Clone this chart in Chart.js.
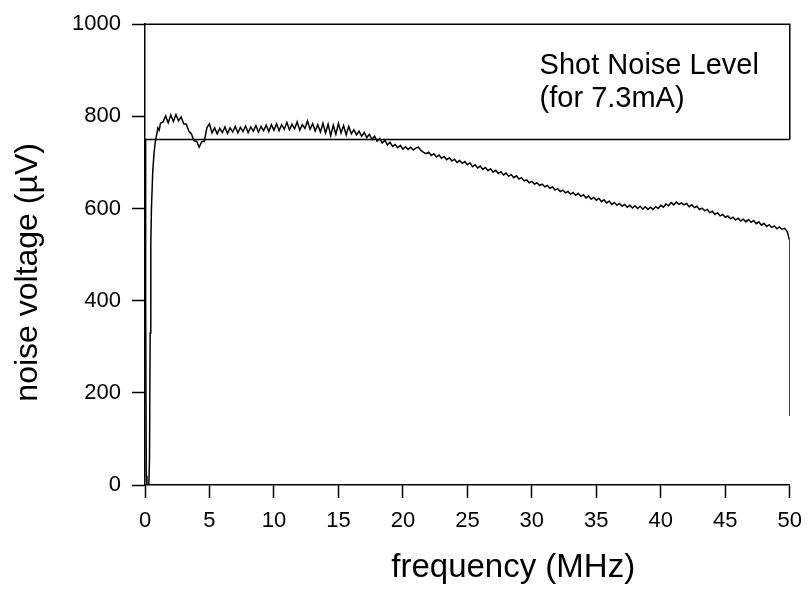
<!DOCTYPE html>
<html>
<head>
<meta charset="utf-8">
<script src="https://cdn.jsdelivr.net/npm/chart.js@4.4.1/dist/chart.umd.min.js"></script>
<style>
  html, body { margin: 0; padding: 0; background: #fff; }
  #c { display: block; }
</style>
</head>
<body>
<canvas id="c" width="812" height="592"></canvas>
<script>
// ---- data ----
const freqMHz = [
  0, 0.05, 0.1, 0.15, 0.2, 0.3, 0.35, 0.4, 0.45, 0.5, 0.6, 0.7, 0.8, 0.9, 1.0, 1.1, 1.2,
  1.4, 1.6, 1.8,
  2.0, 2.2, 2.4, 2.6, 2.8, 3.0, 3.2, 3.4, 3.6, 3.8,
  4.0, 4.2, 4.4, 4.6, 4.8, 5.0, 5.2, 5.4, 5.6, 5.8,
  6.0, 6.2, 6.4, 6.6, 6.8, 7.0, 7.2, 7.4, 7.6, 7.8,
  8.0, 8.2, 8.4, 8.6, 8.8, 9.0, 9.2, 9.4, 9.6, 9.8,
  10.0, 10.2, 10.4, 10.6, 10.8, 11.0, 11.2, 11.4, 11.6, 11.8,
  12.0, 12.2, 12.4, 12.6, 12.8, 13.0, 13.2, 13.4, 13.6, 13.8,
  14.0, 14.2, 14.4, 14.6, 14.8, 15.0, 15.2, 15.4, 15.6, 15.8,
  16.0, 16.2, 16.4, 16.6, 16.8, 17.0, 17.2, 17.4, 17.6, 17.8,
  18.0, 18.2, 18.4, 18.6, 18.8, 19.0, 19.2, 19.4, 19.6, 19.8,
  20.0, 20.2, 20.4, 20.6, 20.8, 21.0, 21.2, 21.4, 21.6, 21.8,
  22.0, 22.2, 22.4, 22.6, 22.8, 23.0, 23.2, 23.4, 23.6, 23.8,
  24.0, 24.2, 24.4, 24.6, 24.8, 25.0, 25.2, 25.4, 25.6, 25.8,
  26.0, 26.2, 26.4, 26.6, 26.8, 27.0, 27.2, 27.4, 27.6, 27.8,
  28.0, 28.2, 28.4, 28.6, 28.8, 29.0, 29.2, 29.4, 29.6, 29.8,
  30.0, 30.2, 30.4, 30.6, 30.8, 31.0, 31.2, 31.4, 31.6, 31.8,
  32.0, 32.2, 32.4, 32.6, 32.8, 33.0, 33.2, 33.4, 33.6, 33.8,
  34.0, 34.2, 34.4, 34.6, 34.8, 35.0, 35.2, 35.4, 35.6, 35.8,
  36.0, 36.2, 36.4, 36.6, 36.8, 37.0, 37.2, 37.4, 37.6, 37.8,
  38.0, 38.2, 38.4, 38.6, 38.8, 39.0, 39.2, 39.4, 39.6, 39.8,
  40.0, 40.2, 40.4, 40.6, 40.8, 41.0, 41.2, 41.4, 41.6, 41.8,
  42.0, 42.2, 42.4, 42.6, 42.8, 43.0, 43.2, 43.4, 43.6, 43.8,
  44.0, 44.2, 44.4, 44.6, 44.8, 45.0, 45.2, 45.4, 45.6, 45.8,
  46.0, 46.2, 46.4, 46.6, 46.8, 47.0, 47.2, 47.4, 47.6, 47.8,
  48.0, 48.2, 48.4, 48.6, 48.8, 49.0, 49.2, 49.4, 49.6, 49.8,
  49.9, 50.0, 50.0
];
const noiseUV = [
  750, 400, 20, 0, 0, 0, 60, 330, 520, 600, 680, 720, 745, 760, 775, 770, 785,
  788, 801, 786,
  803, 789, 804, 790, 799, 784, 783, 768, 762, 747,
  746, 733, 745, 746, 775, 784, 764, 775, 762, 774,
  765, 777, 763, 775, 766, 778, 764, 776, 767, 779,
  765, 777, 768, 780, 766, 778, 769, 781, 767, 782,
  770, 784, 769, 782, 772, 787, 771, 783, 773, 788,
  770, 782, 774, 790, 772, 784, 768, 782, 766, 785,
  764, 783, 758, 781, 761, 785, 764, 780, 760, 778,
  762, 771, 760, 768, 757, 765, 754, 761, 750, 757,
  746, 752, 742, 748, 738, 744, 735, 739, 732, 737,
  729, 734, 728, 733, 727, 731, 733, 726, 722, 719,
  722, 715, 719, 712, 716, 709, 713, 706, 710, 703,
  707, 700, 704, 698, 702, 695, 699, 691, 695, 688,
  692, 685, 689, 682, 686, 679, 683, 676, 680, 673,
  677, 670, 674, 667, 671, 664, 667, 660, 662, 656,
  659, 653, 656, 650, 653, 647, 650, 644, 647, 640,
  643, 637, 640, 634, 637, 631, 635, 629, 633, 626,
  630, 623, 627, 620, 624, 618, 622, 615, 619, 612,
  616, 609, 613, 607, 611, 605, 609, 603, 607, 601,
  606, 600, 605, 599, 604, 598, 603, 598, 604, 600,
  607, 603, 610, 606, 613, 608, 614, 609, 612, 608,
  611, 604, 608, 602, 605, 598, 601, 595, 598, 591,
  594, 587, 591, 584, 587, 581, 584, 578, 581, 575,
  579, 573, 577, 571, 576, 570, 574, 567, 571, 564,
  568, 561, 565, 559, 562, 556, 560, 555, 557, 550,
  540, 530, 150
];
const shotNoiseLevel = 750;           // µV, horizontal reference line
const shotNoiseFreq = [0, 50];
const xTickValues = [0, 5, 10, 15, 20, 25, 30, 35, 40, 45, 50];
const yTickValues = [0, 200, 400, 600, 800, 1000];
const annotationLines = ['Shot Noise Level', '(for 7.3mA)'];
const annotationPos = { x: 30.6, y: [893, 820] };   // data coords of text baselines
const xTitle = 'frequency (MHz)';
const yTitle = 'noise voltage (\u00b5V)';

// ---- chart ----
const FAMILY = '"Liberation Sans", Arial, Helvetica, sans-serif';
const NBSP = '\u00a0';

const curve = freqMHz.map((f, i) => ({ x: f, y: noiseUV[i] }));
const shotLine = shotNoiseFreq.map(f => ({ x: f, y: shotNoiseLevel }));

const framePlugin = {
  id: 'frameAndNote',
  afterDatasetsDraw(chart) {
    const { ctx, scales: { x, y } } = chart;
    const xMin = xTickValues[0], xMax = xTickValues[xTickValues.length - 1];
    const yMax = yTickValues[yTickValues.length - 1];
    ctx.save();
    ctx.strokeStyle = '#000';
    ctx.lineWidth = 1.5;
    ctx.beginPath();
    ctx.moveTo(x.getPixelForValue(xMin), y.getPixelForValue(yMax));
    ctx.lineTo(x.getPixelForValue(xMax), y.getPixelForValue(yMax));
    ctx.lineTo(x.getPixelForValue(xMax), y.getPixelForValue(shotNoiseLevel));
    ctx.stroke();
    ctx.fillStyle = '#000';
    ctx.font = '29px ' + FAMILY;
    ctx.textAlign = 'left';
    ctx.textBaseline = 'alphabetic';
    annotationLines.forEach((t, i) => {
      ctx.fillText(t, x.getPixelForValue(annotationPos.x), y.getPixelForValue(annotationPos.y[i]));
    });
    ctx.restore();
  }
};

new Chart(document.getElementById('c'), {
  type: 'line',
  data: {
    datasets: [
      {
        data: curve,
        borderColor: '#000',
        borderWidth: 1.5,
        pointRadius: 0,
        tension: 0,
        fill: false
      },
      {
        data: shotLine,
        borderColor: '#000',
        borderWidth: 1.5,
        pointRadius: 0,
        tension: 0,
        fill: false
      }
    ]
  },
  options: {
    responsive: false,
    animation: false,
    events: [],
    layout: { padding: { left: 0, right: 19, top: 21, bottom: 0 } },
    plugins: { legend: { display: false }, tooltip: { enabled: false } },
    scales: {
      x: {
        type: 'linear',
        min: 0,
        max: 50,
        afterBuildTicks(s) { s.ticks = xTickValues.map(v => ({ value: v })); },
        afterFit(s) { s.height = 107; },
        ticks: { color: '#000', font: { size: 22, family: FAMILY }, padding: 10, maxRotation: 0,
                 callback: v => String(v) },
        grid: { display: true, drawOnChartArea: false, drawTicks: true, tickLength: 13, tickColor: '#000', tickWidth: 1.5, color: '#000' },
        border: { display: true, color: '#000', width: 1.5 },
        title: { display: true, text: NBSP.repeat(10) + xTitle, color: '#000', font: { size: 33, family: FAMILY }, padding: { top: 0, bottom: 4 } }
      },
      y: {
        type: 'linear',
        min: 0,
        max: 1000,
        afterBuildTicks(s) { s.ticks = yTickValues.map(v => ({ value: v })); },
        afterFit(s) { s.width = 145; },
        ticks: { color: '#000', font: { size: 22, family: FAMILY }, padding: 11,
                 callback: v => String(v) },
        grid: { display: true, drawOnChartArea: false, drawTicks: true, tickLength: 13, tickColor: '#000', tickWidth: 1.5, color: '#000' },
        border: { display: true, color: '#000', width: 1.5 },
        title: { display: true, text: yTitle + NBSP.repeat(4), color: '#000', font: { size: 32, family: FAMILY }, padding: { top: 9, bottom: 0 } }
      }
    }
  },
  plugins: [framePlugin]
});
</script>
</body>
</html>
